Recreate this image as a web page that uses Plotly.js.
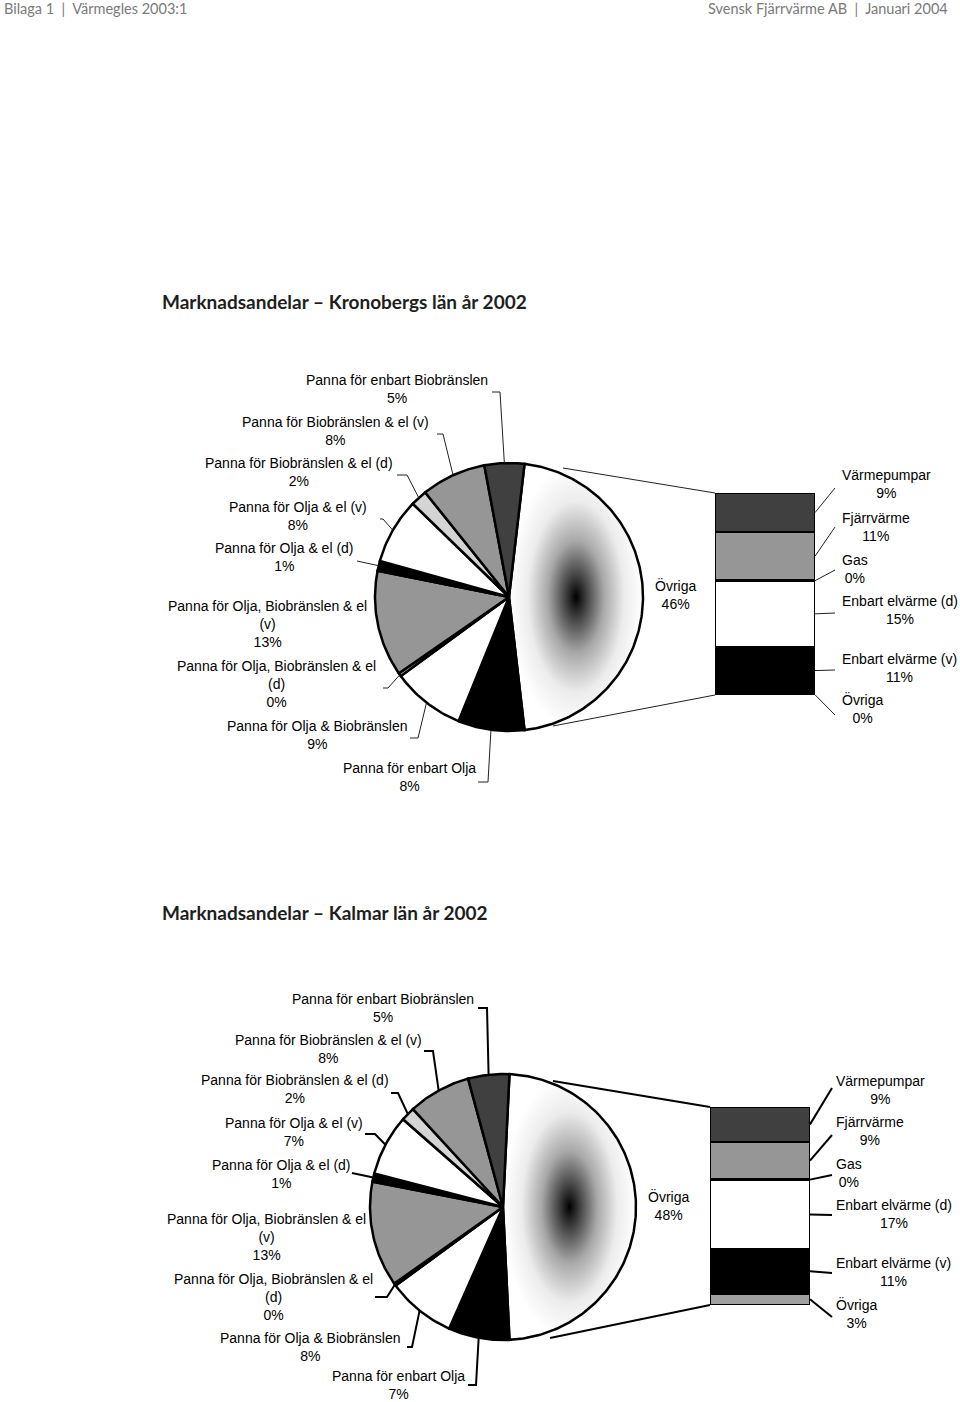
<!DOCTYPE html>
<html><head><meta charset="utf-8">
<script src="https://cdn.plot.ly/plotly-3.0.1.min.js"></script>
<style>html,body{margin:0;padding:0;background:#fff;overflow:hidden}</style>
</head><body><div id="chart" style="width:960px;height:1402px"></div>
<script>
// ---------- DATA ----------
const pieCategories = [
  "Panna för enbart Biobränslen",
  "Panna för Biobränslen & el (v)",
  "Panna för Biobränslen & el (d)",
  "Panna för Olja & el (v)",
  "Panna för Olja & el (d)",
  "Panna för Olja, Biobränslen & el (v)",
  "Panna för Olja, Biobränslen & el (d)",
  "Panna för Olja & Biobränslen",
  "Panna för enbart Olja"
];
const kronobergPieValues = [4.8, 7.8, 2.0, 7.9, 1.2, 12.8, 0.4, 8.8, 8.0];
const kalmarPieValues    = [5.0, 7.6, 1.7, 7.4, 1.0, 12.8, 0.3, 8.3, 7.4];
const barCategories = ["Värmepumpar", "Fjärrvärme", "Gas", "Enbart elvärme (d)", "Enbart elvärme (v)", "Övriga"];
const kronobergBarValues = [9.0, 11.0, 0.2, 15.0, 11.0, 0.1];
const kalmarBarValues    = [8.5, 9.2, 0.1, 16.9, 10.9, 2.8];
const otherLabel = "Övriga";
const chartTitles = ["Marknadsandelar – Kronobergs län år 2002", "Marknadsandelar – Kalmar län år 2002"];
const headerLeft = "Bilaga 1  |  Värmegles 2003:1";
const headerRight = "Svensk Fjärrvärme AB  |  Januari 2004";

// ---------- STYLE / LAYOUT ----------
const W = 960, H = 1402;
const pieColors = ["#404040", "#969696", "#d4d4d4", "#ffffff", "#000000", "#969696", "#e0e0e0", "#ffffff", "#000000"];
const barColors = ["#404040", "#969696", "#ffffff", "#ffffff", "#000000", "#a0a0a0"];
const gradientScale = [[0, "#000000"], [0.18, "#4a4a4a"], [0.42, "#a8a8a8"], [0.72, "#ececec"], [1, "#ffffff"]];
const labelFont = {family: "Liberation Sans, Arial, sans-serif", size: 14, color: "#000"};

const charts = [
  {
    title: chartTitles[0], titlePos: [160, 301],
    pie: {cx: 509, cy: 597, r: 134}, bar: {x0: 715, x1: 815, y0: 493, y1: 695},
    pieValues: kronobergPieValues, barValues: kronobergBarValues,
    labelPos: [[397,389],[335,431],[299,472.5],[298,516],[284,557],[267,624],[276,683.5],[317,735],[409,777.5]],
    leader: [[[492,392],[500,392]],[[437,434],[443,434]],[[397,475],[407,475]],[[380,519],[383,519]],[[357,561],[357,561]],null,[[383,688],[388,688]],[[410,738],[418,738]],[[478,782],[488,782]]],
    otherPos: [675, 594], rightX: 840,
    rightPos: [483.5, 526.5, 568.5, 610, 668, 708.5],
    rightEnd: [[835,488],[835,527],[835,570],[835,613],[835,670],[835,715]],
    conn: [[563,468],[553,726]], lw: 1, lc: "#222"
  },
  {
    title: chartTitles[1], titlePos: [160, 912],
    pie: {cx: 503, cy: 1207, r: 133}, bar: {x0: 710, x1: 810, y0: 1107, y1: 1305},
    pieValues: kalmarPieValues, barValues: kalmarBarValues,
    labelPos: [[383,1007.5],[328,1048.5],[295,1089],[294,1131.5],[281,1173.5],[266,1236.5],[273,1296.5],[310,1346.5],[398,1384.5]],
    leader: [[[478,1008],[487,1008]],[[424,1051],[433,1051]],[[391,1093],[398,1093]],[[365,1134],[375,1134]],[[352,1173],[352,1173]],null,[[375,1297],[387,1297]],[[407,1347],[412,1347]],[[468,1385],[476,1385]]],
    otherPos: [668, 1205], rightX: 834,
    rightPos: [1089.5, 1130.5, 1172.5, 1214, 1272, 1313],
    rightEnd: [[832,1088],[832,1135],[832,1175],[832,1215],[832,1273],[832,1317]],
    conn: [[553,1081],[550,1338]], lw: 2, lc: "#000"
  }
];

const px = x => x / W;
const py = y => 1 - y / H;
const rad = d => d * Math.PI / 180;
const sum = a => a.reduce((s, v) => s + v, 0);

function arcPoly(t0, t1) {
  const xs = [0], ys = [0];
  const n = Math.max(2, Math.ceil(Math.abs(t1 - t0)));
  for (let k = 0; k <= n; k++) {
    const t = rad(t0 + (t1 - t0) * k / n);
    xs.push(Math.sin(t)); ys.push(Math.cos(t));
  }
  xs.push(0); ys.push(0);
  return {xs, ys};
}

const traces = [], shapes = [], annotations = [];
const layout = {
  width: W, height: H, margin: {l: 0, r: 0, t: 0, b: 0},
  paper_bgcolor: "#fff", plot_bgcolor: "rgba(0,0,0,0)",
  showlegend: false, barmode: "stack", bargap: 0,
  shapes, annotations
};
const PAD = 1.05;

charts.forEach((c, ci) => {
  const pa = 2 * ci + 1, ba = 2 * ci + 2;
  const pxName = pa === 1 ? "x" : "x" + pa, pyName = pa === 1 ? "y" : "y" + pa;
  const bxName = "x" + ba, byName = "y" + ba;
  const axBase = {visible: false, showgrid: false, zeroline: false, fixedrange: true};
  const p = c.pie;
  layout[pa === 1 ? "xaxis" : "xaxis" + pa] = Object.assign({}, axBase, {
    domain: [px(p.cx - p.r * PAD), px(p.cx + p.r * PAD)], range: [-PAD, PAD], anchor: pyName});
  layout[pa === 1 ? "yaxis" : "yaxis" + pa] = Object.assign({}, axBase, {
    domain: [py(p.cy + p.r * PAD), py(p.cy - p.r * PAD)], range: [-PAD, PAD], anchor: pxName});

  const otherValue = sum(c.barValues);
  const total = sum(c.pieValues) + otherValue;
  const half = otherValue / total * 180;

  // Övriga slice with radial gradient
  const og = arcPoly(90 - half, 90 + half);
  traces.push({type: "scatter", mode: "lines", x: og.xs, y: og.ys, xaxis: pxName, yaxis: pyName,
    fill: "toself", fillcolor: "#ffffff",
    fillgradient: {type: "radial", colorscale: gradientScale},
    line: {color: "#000", width: 2.5}, hoverinfo: "skip"});

  const mids = [];
  let theta = 90 + half;
  for (let i = c.pieValues.length - 1; i >= 0; i--) {
    const span = c.pieValues[i] / total * 360;
    const poly = arcPoly(theta, theta + span);
    traces.push({type: "scatter", mode: "lines", x: poly.xs, y: poly.ys, xaxis: pxName, yaxis: pyName,
      fill: "toself", fillcolor: pieColors[i], line: {color: "#000", width: 2.5}, hoverinfo: "skip"});
    mids[i] = theta + span / 2;
    theta += span;
  }

  // bar axes
  const b = c.bar;
  const barTotal = otherValue;
  layout[bxName.replace("x", "xaxis")] = Object.assign({}, axBase, {
    domain: [px(b.x0), px(b.x1)], range: [-0.5, 0.5], anchor: byName});
  layout[byName.replace("y", "yaxis")] = Object.assign({}, axBase, {
    domain: [py(b.y1), py(b.y0)], range: [barTotal, 0], anchor: bxName});
  c.barValues.forEach((v, i) => {
    traces.push({type: "bar", x: [0], y: [v], width: [1], xaxis: bxName, yaxis: byName,
      marker: {color: barColors[i], line: {color: "#000", width: 2}}, cliponaxis: false, hoverinfo: "skip"});
  });

  // title
  annotations.push({text: "<b>" + c.title + "</b>", x: px(c.titlePos[0]), y: py(c.titlePos[1]), xref: "paper", yref: "paper",
    xanchor: "left", yanchor: "middle", showarrow: false,
    font: {family: "Lato, Open Sans, sans-serif", size: 19, color: "#1e1e1e"}});

  // left labels + leaders
  pieCategories.forEach((name, i) => {
    const nm = name.length > 32 ? name.replace(" (", "<br>(") : name;
    annotations.push({text: nm + "<br>" + Math.round(c.pieValues[i]) + "%", x: px(c.labelPos[i][0]), y: py(c.labelPos[i][1]),
      xref: "paper", yref: "paper", xanchor: "center", yanchor: "middle", align: "center", showarrow: false, font: labelFont});
    const L = c.leader[i];
    if (L) {
      const t = rad(mids[i]);
      const ex = p.cx + p.r * Math.sin(t), ey = p.cy - p.r * Math.cos(t);
      shapes.push({type: "path", xref: "paper", yref: "paper",
        path: `M ${px(L[0][0])} ${py(L[0][1])} L ${px(L[1][0])} ${py(L[1][1])} L ${px(ex)} ${py(ey)}`,
        line: {color: c.lc, width: c.lw}});
    }
  });

  // Övriga pie label
  annotations.push({text: otherLabel + "<br>" + Math.round(otherValue) + "%", x: px(c.otherPos[0]), y: py(c.otherPos[1]),
    xref: "paper", yref: "paper", xanchor: "center", yanchor: "middle", align: "center", showarrow: false, font: labelFont});

  // connectors from pie to bar
  shapes.push({type: "line", xref: "paper", yref: "paper", x0: px(c.conn[0][0]), y0: py(c.conn[0][1]), x1: px(b.x0), y1: py(b.y0), line: {color: c.lc, width: c.lw}});
  shapes.push({type: "line", xref: "paper", yref: "paper", x0: px(c.conn[1][0]), y0: py(c.conn[1][1]), x1: px(b.x0), y1: py(b.y1), line: {color: c.lc, width: c.lw}});

  // right labels + leaders
  let cum = 0;
  c.barValues.forEach((v, i) => {
    const midY = b.y0 + (cum + v / 2) / barTotal * (b.y1 - b.y0);
    cum += v;
    annotations.push({text: barCategories[i] + "<br>" + Math.round(v) + "%", x: px(c.rightX), y: py(c.rightPos[i]),
      xref: "paper", yref: "paper", xanchor: "left", yanchor: "middle", align: "center", showarrow: false, font: labelFont});
    shapes.push({type: "line", xref: "paper", yref: "paper", x0: px(b.x1), y0: py(midY), x1: px(c.rightEnd[i][0]), y1: py(c.rightEnd[i][1]),
      line: {color: c.lc, width: c.lw}});
  });
});

// header
const headFont = {family: "Lato, Open Sans, sans-serif", size: 14.5, color: "#7a7a7a"};
annotations.push({text: headerLeft, x: px(2), y: py(8), xref: "paper", yref: "paper", xanchor: "left", yanchor: "middle", showarrow: false, font: headFont});
annotations.push({text: headerRight, x: px(950), y: py(8), xref: "paper", yref: "paper", xanchor: "right", yanchor: "middle", showarrow: false, font: headFont});

Plotly.newPlot("chart", traces, layout, {staticPlot: true, displayModeBar: false});
</script>
</body></html>
